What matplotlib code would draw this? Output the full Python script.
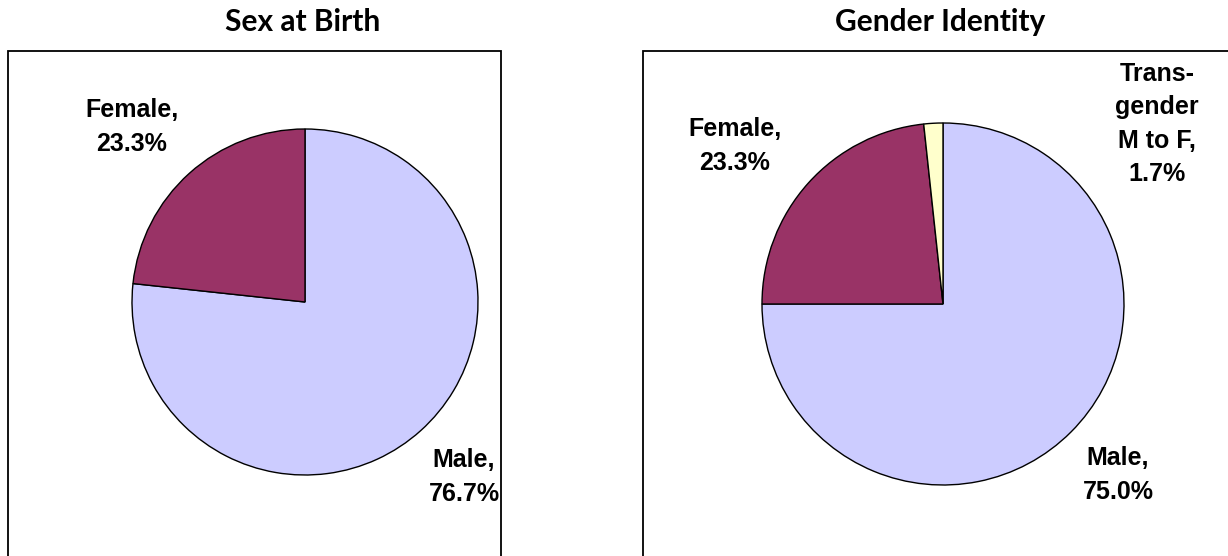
import matplotlib
matplotlib.use('Agg')
import matplotlib.pyplot as plt
from matplotlib.patches import Rectangle

# ==============================================================================
#  DATA
# ==============================================================================

SEX_LABELS   = ['Male', 'Female']
SEX_VALUES   = [76.7, 23.3]
GENDER_LABELS = ['Male', 'Female', 'Trans-\ngender\nM to F']
GENDER_VALUES = [75.0, 23.3, 1.7]
COLORS = ['#CCCCFF', '#993366', '#FFFFCC']

W, H = 1228, 556
LABEL_FONT = 'Liberation Sans'
TITLE_FONT = 'Lato'


def img_y(y):
    # picture coordinates run top-down, the axes bottom-up
    return H - y


fig = plt.figure(figsize=(W / 100, H / 100), dpi=100)
ax = fig.add_axes([0, 0, 1, 1])

panels = [
    ('Sex at Birth', SEX_LABELS, SEX_VALUES, (305, 302), 173, (303, 22),
     (7.5, 50.5, 493.5), [(464, 477), (132, 127)]),
    ('Gender Identity', GENDER_LABELS, GENDER_VALUES, (943, 304), 181, (940, 22),
     (643, 50.5, 600), [(1118, 475), (735, 146), (1157, 124)]),
]

for title, labels, values, centre, radius, tpos, box, lpos in panels:
    x0, y0, bw = box
    ax.add_patch(Rectangle((x0, -20), bw, img_y(y0) + 20, fill=False,
                           edgecolor='black', linewidth=1.3, zorder=0))
    ax.pie(values, colors=COLORS[:len(values)], startangle=90, counterclock=False,
           center=(centre[0], img_y(centre[1])), radius=radius, frame=True,
           wedgeprops={'edgecolor': 'black', 'linewidth': 1.0})
    ax.text(tpos[0], img_y(tpos[1]), title, ha='center', va='center',
            fontsize=21.5, fontweight='bold', family=TITLE_FONT)
    for lab, val, (lx, ly) in zip(labels, values, lpos):
        ax.text(lx, img_y(ly), f'{lab},\n{val:.1f}%', ha='center', va='center',
                fontsize=18, fontweight='bold', family=LABEL_FONT, linespacing=1.5)

ax.set_xlim(0, W)
ax.set_ylim(0, H)
ax.set_aspect('equal')
ax.axis('off')

fig.savefig('out.png', dpi=100)
plt.close()
